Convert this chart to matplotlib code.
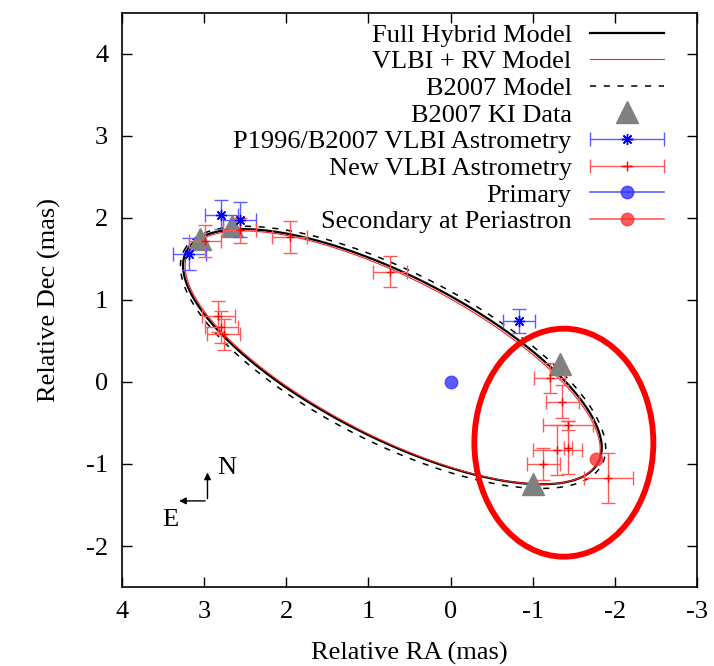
import matplotlib
matplotlib.use("Agg")
import matplotlib.pyplot as plt
import numpy as np
from matplotlib.patches import Ellipse
from matplotlib.legend_handler import HandlerErrorbar

plt.rcParams['font.family'] = ['Liberation Serif', 'DejaVu Serif']
plt.rcParams['axes.unicode_minus'] = False
plt.rcParams['font.size'] = 19

# apparent orbit ellipses: centre RA, centre Dec, semi-major, semi-minor, angle (deg)
hybrid_orbit = [0.708, 0.308, 2.819, 0.986, 27.1]
vlbi_rv_orbit = [0.705, 0.298, 2.800, 0.965, 27.3]
b2007_orbit = [0.700, 0.300, 2.860, 1.040, 27.1]

# B2007 KI data
ki_ra = [3.05, 2.66, -1.33, -1.01]
ki_dec = [1.74, 1.90, 0.22, -1.25]

# P1996/B2007 VLBI astrometry
old_ra = [3.18, 2.79, 2.57, -0.835]
old_dec = [1.56, 2.04, 1.98, 0.744]
old_ra_err = [0.20, 0.20, 0.20, 0.19]
old_dec_err = [0.20, 0.18, 0.21, 0.15]

# new VLBI astrometry
new_ra = [2.99, 2.57, 1.96, 0.74, 2.83, 2.79, 2.76,
          -1.21, -1.36, -1.43, -1.43, -1.30, -1.13, -1.92]
new_dec = [1.72, 1.85, 1.77, 1.345, 0.80, 0.67, 0.58,
           0.05, -0.24, -0.53, -0.80, -0.83, -1.00, -1.17]
new_ra_err = [0.20, 0.20, 0.21, 0.21, 0.20, 0.20, 0.20,
              0.19, 0.20, 0.30, 0.05, 0.30, 0.20, 0.30]
new_dec_err = [0.20, 0.15, 0.195, 0.19, 0.19, 0.20, 0.19,
               0.18, 0.20, 0.05, 0.32, 0.30, 0.20, 0.30]

primary = [0.0, 0.0]
periastron = [-1.77, -0.94]


def ellipse_curve(params, n=600):
    cx, cy, a, b, ang = params
    t = np.linspace(0, 2 * np.pi, n)
    th = np.radians(ang)
    ex = cx + a * np.cos(t) * np.cos(th) - b * np.sin(t) * np.sin(th)
    ey = cy + a * np.cos(t) * np.sin(th) + b * np.sin(t) * np.cos(th)
    return ex, ey


fig = plt.figure(figsize=(7.14, 6.66), dpi=100)
ax = fig.add_axes([0.171, 0.1186, 0.805, 0.862])

ex, ey = ellipse_curve(hybrid_orbit)
l1, = ax.plot(ex, ey, color='black', lw=1.6, zorder=3)
ex, ey = ellipse_curve(vlbi_rv_orbit)
l2, = ax.plot(ex, ey, color='#ff2020', lw=0.8, zorder=3)
ex, ey = ellipse_curve(b2007_orbit)
l3, = ax.plot(ex, ey, color='black', lw=1.1, ls=(0, (4, 5)), zorder=2)

l4, = ax.plot(ki_ra, ki_dec, ls='none', marker='^', ms=16, color='#808080', zorder=4)

ax.errorbar(old_ra, old_dec, xerr=old_ra_err, yerr=old_dec_err, fmt='none',
            ecolor='#5c5cff', elinewidth=1.0, capsize=5, capthick=1.0, zorder=5)
ax.plot(old_ra, old_dec, ls='none', marker=(8, 2, 0), ms=8, mew=1.0, color='blue', zorder=6)
ax.errorbar(new_ra, new_dec, xerr=new_ra_err, yerr=new_dec_err, fmt='none',
            ecolor='#ff5a5a', elinewidth=1.0, capsize=5, capthick=1.0, zorder=5)
ax.plot(new_ra, new_dec, ls='none', marker='+', ms=6, mew=1.0, color='red', zorder=6)

# legend proxies for the astrometry sets
p1 = ax.errorbar([np.nan], [np.nan], xerr=[0.1], yerr=[0.1], ls='none', marker=(8, 2, 0), ms=8,
                 color='blue', ecolor='#5c5cff', elinewidth=1.0, capsize=5)
p2 = ax.errorbar([np.nan], [np.nan], xerr=[0.1], yerr=[0.1], ls='none', marker='+', ms=7,
                 color='red', ecolor='#ff5a5a', elinewidth=1.0, capsize=5)

l7, = ax.plot([primary[0]], [primary[1]], '-o', color='#3333ff', alpha=0.8, ms=9,
              lw=1.2, zorder=7)
l8, = ax.plot([periastron[0]], [periastron[1]], '-o', color='#ff3333', alpha=0.8, ms=9,
              lw=1.2, zorder=7)

# highlight ellipse
ax.add_patch(Ellipse((-1.38, -0.74), 2.18, 2.78, fill=False, ec='red', lw=4.2, zorder=8))

# compass
ax.annotate('', xy=(2.96, -1.07), xytext=(2.96, -1.455),
            arrowprops=dict(arrowstyle='-|>', lw=1.0, color='black', mutation_scale=10))
ax.annotate('', xy=(3.34, -1.45), xytext=(2.955, -1.45),
            arrowprops=dict(arrowstyle='-|>', lw=1.0, color='black', mutation_scale=10))
ax.text(2.73, -1.05, 'N', ha='center', va='center')
ax.text(3.41, -1.68, 'E', ha='center', va='center')

ax.set_xlim(4, -3)
ax.set_ylim(-2.5, 4.5)
ax.set_xticks(range(4, -4, -1))
ax.set_yticks(range(-2, 5))
ax.tick_params(direction='in', length=7, width=1.0, top=True, right=True, pad=10)
for s in ax.spines.values():
    s.set_linewidth(1.2)
ax.set_xlabel('Relative RA (mas)')
ax.set_ylabel('Relative Dec (mas)')
ax.xaxis.set_label_coords(0.5, -0.095)
ax.yaxis.set_label_coords(-0.107, 0.5)

handles = [l1, l2, l3, l4, p1, p2, l7, l8]
labels = ['Full Hybrid Model', 'VLBI + RV Model', 'B2007 Model', 'B2007 KI Data',
          'P1996/B2007 VLBI Astrometry', 'New VLBI Astrometry', 'Primary',
          'Secondary at Periastron']
hl = 2.8
ax.legend(handles, labels, loc='upper right', bbox_to_anchor=(0.930, 0.965),
          bbox_transform=fig.transFigure, frameon=False, markerfirst=False,
          handlelength=hl, handletextpad=0.7, labelspacing=0.12, borderpad=0,
          borderaxespad=0, numpoints=1,
          handler_map={type(p1): HandlerErrorbar(xerr_size=hl / 2, yerr_size=0.0001)})

fig.savefig('out.png')
